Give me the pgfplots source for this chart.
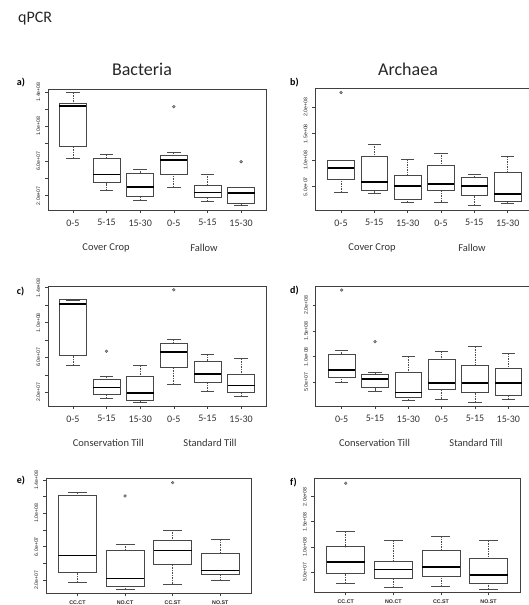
\documentclass[border=0pt]{standalone}
\usepackage{fontspec}
\setmainfont{Carlito}
\newfontfamily\rsans{Liberation Sans}
\usepackage{pgfplots}
\pgfplotsset{compat=1.18}
\usepgfplotslibrary{statistics}

\pgfplotsset{
  rplot/.style={
    scale only axis,
    axis line style={black!75, line width=0.8pt},
    every tick/.style={black!75, line width=0.6pt},
    tick align=outside,
    tick pos=left,
    major tick length=3pt,
    boxplot/draw direction=y,
    boxplot/box extend=0.8,
    boxplot/whisker extend=0.4,
    boxplot/every box/.style={draw=black!72, line width=0.8pt},
    boxplot/every median/.style={draw=black, line width=1.6pt},
    boxplot/every whisker/.style={draw=black!70, line width=0.7pt},
    boxplot/draw/lower whisker/.code={%
      \draw[/pgfplots/boxplot/every whisker/.try, dash pattern=on 1.5pt off 1pt]
        (boxplot cs:\pgfplotsboxplotvalue{lower whisker}) --
        (boxplot cs:\pgfplotsboxplotvalue{lower quartile});
      \draw[/pgfplots/boxplot/every whisker/.try]
        (boxplot whisker cs:\pgfplotsboxplotvalue{lower whisker},0) --
        (boxplot whisker cs:\pgfplotsboxplotvalue{lower whisker},1);
    },
    boxplot/draw/upper whisker/.code={%
      \draw[/pgfplots/boxplot/every whisker/.try, dash pattern=on 1.5pt off 1pt]
        (boxplot cs:\pgfplotsboxplotvalue{upper whisker}) --
        (boxplot cs:\pgfplotsboxplotvalue{upper quartile});
      \draw[/pgfplots/boxplot/every whisker/.try]
        (boxplot whisker cs:\pgfplotsboxplotvalue{upper whisker},0) --
        (boxplot whisker cs:\pgfplotsboxplotvalue{upper whisker},1);
    },
    yticklabel style={font=\rsans\fontsize{5.2}{5.2}\selectfont, text=black!85, rotate=90, anchor=south, inner sep=4.5pt},
    xtick={1,2,3,4,5,6},
    xticklabel style={font=\fontsize{10}{10}\selectfont, text=black!80, yshift=-3pt},
    clip=false,
  },
  six/.style={
    xticklabels={0-5,5-15,15-30,0-5,5-15,15-30},
  },
  four/.style={
    xtick={1,2,3,4},
    xmin=0.34, xmax=4.66,
    xticklabels={CC.CT,NO.CT,CC.ST,NO.ST},
    xticklabel style={font=\rsans\bfseries\fontsize{5.3}{5.3}\selectfont, text=black!85, yshift=2.5pt},
  },
  bac/.style={
    ytick={2,4,6,8,10,12,14},
    yticklabels={2.0e+07,,6.0e+07,,1.0e+08,,1.4e+08},
  },
  arc/.style={
    ytick={5,10,15,20},
    yticklabels={5.0e+07,1.0e+08,1.5e+08,2.0e+08},
  },
  bstyle/.style={black!72, mark=*, mark size=1.4pt,
    mark options={fill=gray!75, draw=gray!60!black, solid, line width=0.4pt}},
}

\newcommand{\bx}[6]{\addplot[bstyle, boxplot prepared={draw position=#1,
  lower whisker=#2, lower quartile=#3, median=#4, upper quartile=#5, upper whisker=#6}]
  coordinates {};}
\newcommand{\bxo}[7]{\addplot[bstyle, boxplot prepared={draw position=#1,
  lower whisker=#2, lower quartile=#3, median=#4, upper quartile=#5, upper whisker=#6}]
  coordinates {(#1,#7)};}

\begin{document}
\begin{tikzpicture}
\useasboundingbox (0pt,0pt) rectangle (528pt,-605pt);

% headers
\node[anchor=base west, font=\fontsize{16}{16}\selectfont, text=black!85, inner sep=0pt] at (18pt,-22.7pt) {qPCR};
\node[anchor=base, font=\fontsize{18}{18}\selectfont, text=black!85, inner sep=0pt] at (142pt,-75pt) {Bacteria};
\node[anchor=base, font=\fontsize{18}{18}\selectfont, text=black!85, inner sep=0pt] at (408pt,-75pt) {Archaea};

% panel letters
\node[anchor=base west, font=\bfseries\fontsize{10}{10}\selectfont, inner sep=0pt] at (16.7pt,-85pt) {a)};
\node[anchor=base west, font=\bfseries\fontsize{10}{10}\selectfont, inner sep=0pt] at (290pt,-85pt) {b)};
\node[anchor=base west, font=\bfseries\fontsize{10}{10}\selectfont, inner sep=0pt] at (16.7pt,-294pt) {c)};
\node[anchor=base west, font=\bfseries\fontsize{10}{10}\selectfont, inner sep=0pt] at (290pt,-293pt) {d)};
\node[anchor=base west, font=\bfseries\fontsize{10}{10}\selectfont, inner sep=0pt] at (16.7pt,-483pt) {e)};
\node[anchor=base west, font=\bfseries\fontsize{10}{10}\selectfont, inner sep=0pt] at (290pt,-485pt) {f)};

% group labels
\node[font=\fontsize{10.5}{10.5}\selectfont, text=black!80] at (106pt,-248pt) {Cover Crop};
\node[font=\fontsize{10.5}{10.5}\selectfont, text=black!80] at (204pt,-248pt) {Fallow};
\node[font=\fontsize{10.5}{10.5}\selectfont, text=black!80] at (372pt,-248pt) {Cover Crop};
\node[font=\fontsize{10.5}{10.5}\selectfont, text=black!80] at (472pt,-248pt) {Fallow};
\node[font=\fontsize{10.5}{10.5}\selectfont, text=black!80] at (108.3pt,-443.3pt) {Conservation Till};
\node[font=\fontsize{10.5}{10.5}\selectfont, text=black!80] at (210pt,-443.3pt) {Standard Till};
\node[font=\fontsize{10.5}{10.5}\selectfont, text=black!80] at (374.5pt,-443.3pt) {Conservation Till};
\node[font=\fontsize{10.5}{10.5}\selectfont, text=black!80] at (476pt,-443.3pt) {Standard Till};

% a) Bacteria, cover crop / fallow
\begin{axis}[rplot, six, bac, at={(48pt,-89pt)}, anchor=north west,
  width=218pt, height=121pt, xmin=0.26, xmax=6.74, ymin=0.35, ymax=14.33]
\bx{1}{6.32}{7.75}{12.4}{12.7}{13.9}
\bx{2}{2.58}{3.50}{4.47}{6.36}{6.82}
\bx{3}{1.50}{1.88}{3.04}{4.54}{5.09}
\bxo{4}{2.97}{4.51}{6.13}{6.71}{7.02}{12.29}
\bx{5}{1.31}{1.82}{2.39}{3.16}{4.51}
\bxo{6}{0.84}{1.12}{2.28}{2.92}{2.97}{5.93}
\end{axis}

% b) Archaea, cover crop / fallow
\begin{axis}[rplot, six, arc, at={(315pt,-88pt)}, anchor=north west,
  width=216pt, height=122pt, xmin=0.22, xmax=6.70, ymin=0.6, ymax=23.6]
\bxo{1}{3.94}{6.45}{8.47}{9.91}{10.04}{22.74}
\bx{2}{3.81}{4.32}{5.83}{10.66}{13.06}
\bx{3}{1.98}{2.68}{5.08}{7.21}{10.17}
\bx{4}{2.11}{4.25}{5.45}{9.09}{11.36}
\bx{5}{1.49}{3.30}{5.08}{6.77}{7.40}
\bx{6}{1.79}{2.17}{3.62}{7.64}{10.74}
\end{axis}

% c) Bacteria, tillage
\begin{axis}[rplot, six, bac, at={(48pt,-286pt)}, anchor=north west,
  width=218pt, height=120pt, xmin=0.26, xmax=6.74, ymin=0.43, ymax=14.2]
\bx{1}{5.10}{6.25}{12.15}{12.61}{12.61}
\bxo{2}{1.31}{1.77}{2.57}{3.53}{3.87}{6.71}
\bx{3}{0.80}{1.11}{1.89}{3.87}{5.06}
\bxo{4}{2.92}{4.91}{6.60}{7.63}{8.09}{13.76}
\bx{5}{2.15}{3.10}{4.10}{5.56}{6.37}
\bx{6}{1.49}{2.00}{2.76}{4.07}{5.86}
\end{axis}

% d) Archaea, tillage
\begin{axis}[rplot, six, arc, at={(315.7pt,-286pt)}, anchor=north west,
  width=216pt, height=120pt, xmin=0.22, xmax=6.70, ymin=0.45, ymax=23.67]
\bxo{1}{4.96}{6.00}{7.36}{10.51}{11.29}{22.89}
\bxo{2}{3.36}{3.99}{5.68}{6.64}{6.97}{12.89}
\bx{3}{1.48}{2.14}{3.10}{6.90}{9.99}
\bx{4}{1.81}{3.68}{4.85}{9.49}{11.09}
\bx{5}{1.17}{3.10}{4.85}{8.25}{11.92}
\bx{6}{1.75}{2.45}{4.85}{7.67}{10.65}
\end{axis}

% e) Bacteria, combinations
\begin{axis}[rplot, four, bac, at={(46pt,-478.3pt)}, anchor=north west,
  width=205.7pt, height=115pt, ymin=0.40, ymax=14.2]
\bx{1}{1.72}{2.88}{4.92}{12.2}{12.48}
\bxo{2}{0.88}{1.28}{2.20}{5.56}{6.32}{12.08}
\bxo{3}{1.52}{3.88}{5.56}{6.76}{8.00}{13.68}
\bx{4}{1.92}{2.72}{3.16}{5.16}{6.88}
\end{axis}

% f) Archaea, combinations
\begin{axis}[rplot, four, arc, at={(314.3pt,-478.3pt)}, anchor=north west,
  width=205.7pt, height=114pt, ymin=0.96, ymax=23.66]
\bxo{1}{2.75}{4.74}{7.05}{10.04}{13.03}{22.67}
\bx{2}{1.88}{3.80}{5.54}{7.19}{11.37}
\bx{3}{2.08}{4.07}{6.00}{9.38}{12.17}
\bx{4}{1.55}{2.75}{4.40}{7.65}{11.24}
\end{axis}
\end{tikzpicture}
\end{document}
